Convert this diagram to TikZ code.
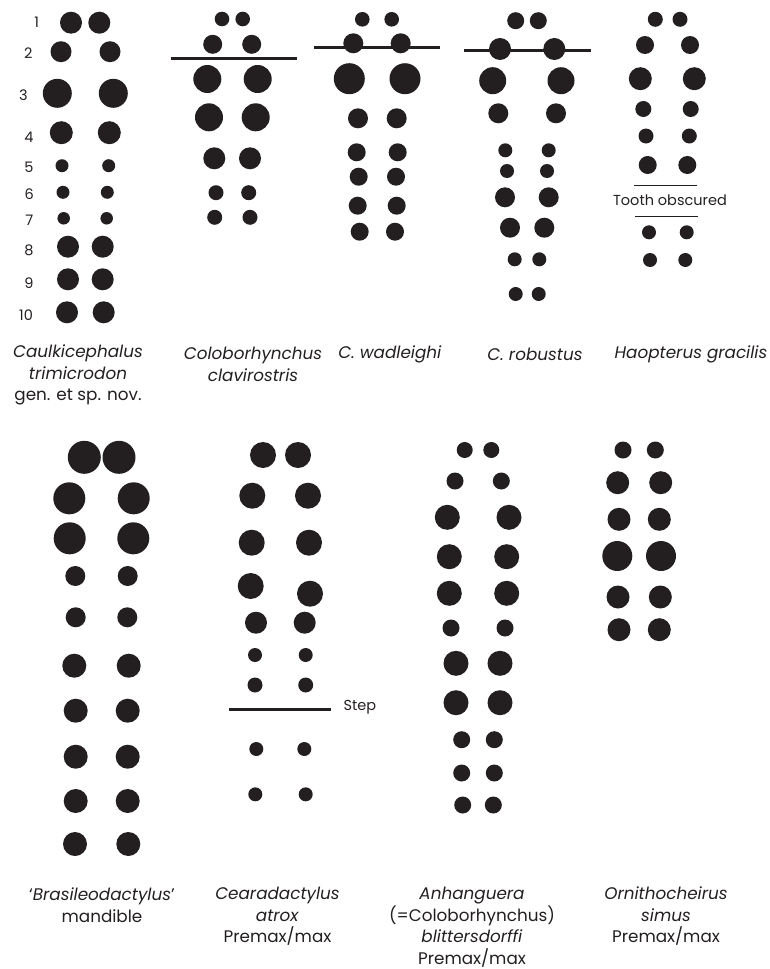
\documentclass[tikz,border=0pt]{standalone}
\usepackage{fontspec}
\setmainfont{Poppins}
\usepackage{tikz}
\definecolor{toothblack}{RGB}{35,31,32}

\begin{document}
\begin{tikzpicture}[x=1pt,y=-1pt,tooth/.style={circle,fill=toothblack,inner sep=0pt,minimum size=#1pt},num/.style={font=\fontsize{14.5}{16}\selectfont,text=toothblack},caption/.style={align=center,text=toothblack,font=\fontsize{16.8}{21.5}\selectfont},bar/.style={line width=3pt,toothblack},thinbar/.style={line width=0.9pt,toothblack}]
\useasboundingbox (0,0) rectangle (769,969);
% Caulkicephalus trimicrodon
\foreach \n/\xl/\xr/\y/\d in {1/71/99.3/22.7/22,2/61/110/51.7/21,3/57.3/113.3/93.3/29,4/61.3/109.3/132.7/23,5/62/108.7/165.7/13,6/63/107.3/192.3/13,7/63.7/106.7/218.3/12.5,8/68/102.7/246.7/22,9/68/102.7/279.3/22,10/67/103.7/312.3/22}
  {\node[tooth=\d] (ck-l\n) at (\xl,\y) {}; \node[tooth=\d] (ck-r\n) at (\xr,\y) {};}
\foreach \n/\x/\y in {1/36.7/22.7,2/28.3/53,3/23.3/95,4/29/137.3,5/29/167.3,6/29.3/194.3,7/29.3/220.7,8/29/250.7,9/29/283.3,10/26/315}
  {\node[num] (ck-n\n) at (\x,\y) {\n};}
% Coloborhynchus clavirostris
\foreach \n/\xl/\xr/\y/\d in {1/222/242.7/19/14.6,2/212.7/251.7/44.3/19,3/207.3/257.7/79/28,4/209/255.7/117.3/28,5/214.3/250/158.3/22,6/216/248.7/192.7/15,7/214.7/250/217.3/15}
  {\node[tooth=\d] (cc-l\n) at (\xl,\y) {}; \node[tooth=\d] (cc-r\n) at (\xr,\y) {};}
\coordinate (cc-bw) at (170.7,58.3); \coordinate (cc-be) at (296.7,58.3);
\draw[bar] (cc-bw)--(cc-be);
% C. wadleighi
\foreach \n/\xl/\xr/\y/\d in {1/362.3/391.7/19.3/14.6,2/353.3/400.7/43.3/20,3/349.3/405/78.7/31,4/358/396.7/118.3/20,5/356.7/397.7/152.3/18,6/358.7/396/176.7/18,7/357.7/396.7/205.7/18,8/359.7/395/231.7/18}
  {\node[tooth=\d] (cw-l\n) at (\xl,\y) {}; \node[tooth=\d] (cw-r\n) at (\xr,\y) {};}
\coordinate (cw-bw) at (314,47.3); \coordinate (cw-be) at (440,47.3);
\draw[bar] (cw-bw)--(cw-be);
% C. robustus
\foreach \n/\xl/\xr/\y/\d in {1/515.7/538.3/20.7/17,2/500/554.3/49/22,3/492.7/561/80.7/27,4/498.3/556/113.3/20,5/505.3/548.7/150.3/14,6/507/547/171/14,7/505/548.7/197.3/20,8/510/544.3/227.7/20,9/514.7/539.3/259.3/14,10/515.7/538.7/294/14}
  {\node[tooth=\d] (cr-l\n) at (\xl,\y) {}; \node[tooth=\d] (cr-r\n) at (\xr,\y) {};}
\coordinate (cr-bw) at (464,50); \coordinate (cr-be) at (590.7,50);
\draw[bar] (cr-bw)--(cr-be);
% Haopterus gracilis
\foreach \n/\xl/\xr/\y/\d in {1/655.3/680/19.3/15,2/645/690/45/18,3/640.3/694.3/78.7/23,4/643.3/690.7/109/16,5/646/689.3/136/15,6/647.7/687.3/165/18,7/649/686.7/232.3/14,8/650/685.3/260/14}
  {\node[tooth=\d] (hg-l\n) at (\xl,\y) {}; \node[tooth=\d] (hg-r\n) at (\xr,\y) {};}
\coordinate (hg-aw) at (634.3,185.7); \coordinate (hg-ae) at (697,185.7);
\coordinate (hg-bw) at (635,216.7); \coordinate (hg-be) at (697.7,216.7);
\draw[thinbar] (hg-aw)--(hg-ae);
\draw[thinbar] (hg-bw)--(hg-be);
\node[num] (hg-obsc) at (670,200) {Tooth obscured};
% Brasileodactylus mandible
\foreach \n/\xl/\xr/\y/\d in {1/84.3/119/457.3/33,2/69.3/133.7/498.3/32,3/69.7/133.3/538.3/32,4/75.3/127.7/576/20,5/75.7/127.3/617.3/20,6/74.3/128.7/665.7/24,7/75.7/127.7/710.7/24,8/75.7/127.7/756.7/24,9/75.7/127.7/801/24,10/75/128.3/844/24}
  {\node[tooth=\d] (bm-l\n) at (\xl,\y) {}; \node[tooth=\d] (bm-r\n) at (\xr,\y) {};}
% Cearadactylus atrox
\foreach \n/\xl/\xr/\y/\d in {1/263/298/455/26,2/252.3/308/495.7/26,3/251.7/309/542.7/26,5/256/304.7/622.7/22,6/255/305.7/655/14,7/255/305.7/685/15,8/256.3/304.3/749/14,9/255.3/305.7/794.3/14}
  {\node[tooth=\d] (ct-l\n) at (\xl,\y) {}; \node[tooth=\d] (ct-r\n) at (\xr,\y) {};}
\node[tooth=26] (ct-l4) at (250.7,586) {};
\node[tooth=26] (ct-r4) at (310,593.7) {};
\coordinate (ct-bw) at (229,709); \coordinate (ct-be) at (331,709);
\draw[bar] (ct-bw)--(ct-be);
\node[num,anchor=west] (ct-step) at (340,707.5) {Step};
% Anhanguera blittersdorffi
\foreach \n/\xl/\xr/\y/\d in {1/464.7/491.3/450/16,2/455/501.3/481/17,3/447.3/509/517.3/25,4/449.3/506.7/556.7/25,5/449.3/506.7/593.3/25,6/451/505/628/17,7/456/500/663.3/25,8/456/500/702.7/25,9/461.7/494.3/739.7/17,10/461.7/494.3/773/17,11/462.7/493.3/805/17}
  {\node[tooth=\d] (ab-l\n) at (\xl,\y) {}; \node[tooth=\d] (ab-r\n) at (\xr,\y) {};}
% Ornithocheirus simus
\foreach \n/\xl/\xr/\y/\d in {1/623/655.3/450/17,2/617.7/660.7/482.7/23,3/619/659.3/519.3/23,4/617.3/661/556/30,5/618/660.3/597/23,6/619/659.3/629.7/23}
  {\node[tooth=\d] (os-l\n) at (\xl,\y) {}; \node[tooth=\d] (os-r\n) at (\xr,\y) {};}
% names
\node[caption] (ck-name) at (78,375) {\textit{Caulkicephalus}\\\textit{trimicrodon}\\gen. et sp. nov.};
\node[caption] (cc-name) at (253,364.5) {\textit{Coloborhynchus}\\\textit{clavirostris}};
\node[caption] (cw-name) at (390,354) {\textit{C. wadleighi}};
\node[caption] (cr-name) at (535,354) {\textit{C. robustus}};
\node[caption] (hg-name) at (691,354) {\textit{Haopterus gracilis}};
\node[caption] (bm-name) at (102,905) {`\textit{Brasileodactylus}'\\mandible};
\node[caption] (ct-name) at (277.5,916.5) {\textit{Cearadactylus}\\\textit{atrox}\\Premax/max};
\node[caption] (ab-name) at (472,927) {\textit{Anhanguera}\\(=Coloborhynchus)\\\textit{blittersdorffi}\\Premax/max};
\node[caption] (os-name) at (666,916.5) {\textit{Ornithocheirus}\\\textit{simus}\\Premax/max};
\end{tikzpicture}
\end{document}
